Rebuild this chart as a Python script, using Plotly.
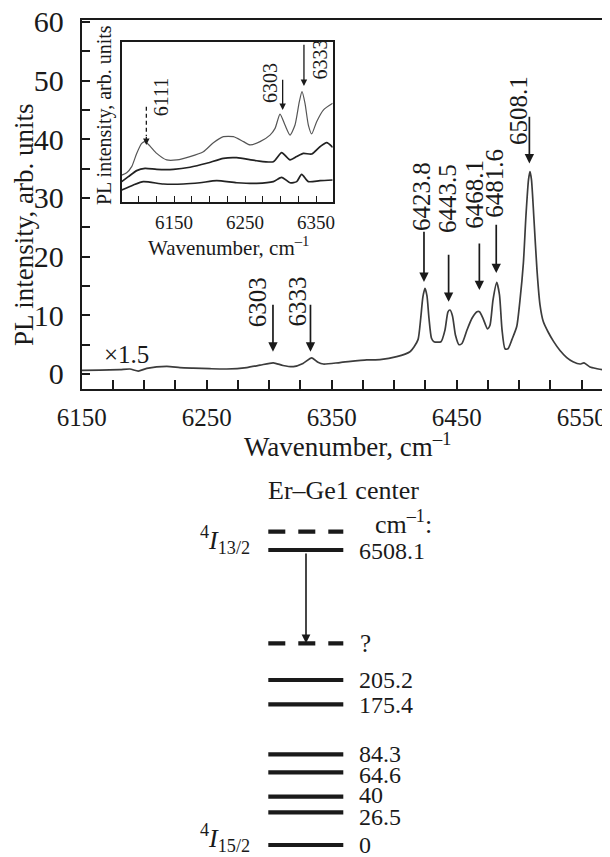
import plotly.graph_objects as go

# The page keeps the browser's default 8 px body margin, so the figure is drawn
# 8 px smaller each way and all positions below are given in window pixels.
PAD = 8
WIN_W, WIN_H = 610, 857
W, H = WIN_W - PAD, WIN_H - PAD
FONT = "Liberation Serif, Times New Roman, serif"
INK = "#1a1a1a"

# ---------------- data ----------------
# main PL spectrum (axis units as drawn)
main_wn = [6150.0, 6164.6, 6180.6, 6188.6, 6195.3, 6202.0, 6218.0, 6228.6, 6239.3, 6252.6,
           6266.0, 6282.0, 6292.6, 6303.3, 6311.0, 6319.3, 6327.0, 6334.0, 6339.0, 6343.3,
           6356.6, 6378.0, 6388.6, 6402.0, 6412.6, 6415.8, 6419.1, 6421.2, 6422.9, 6424.6,
           6426.2, 6427.8, 6429.8, 6431.8, 6437.4, 6440.6, 6443.0, 6444.6, 6446.6, 6449.0,
           6451.8, 6454.2, 6458.2, 6462.2, 6466.2, 6468.2, 6471.0, 6474.6, 6476.6, 6479.0,
           6482.0, 6484.2, 6486.2, 6488.6, 6491.0, 6494.2, 6498.0, 6500.6, 6503.3, 6505.4,
           6507.4, 6508.6, 6509.8, 6511.8, 6514.2, 6516.6, 6519.3, 6523.0, 6527.3, 6532.6,
           6538.0, 6543.0, 6548.6, 6551.8, 6556.6, 6562.2, 6567.0, 6572.6]
main_pl = [0.6, 0.65, 0.75, 0.85, 0.5, 0.95, 1.3, 1.1, 1.0, 0.9,
           0.85, 1.1, 1.5, 1.9, 1.45, 1.25, 1.8, 2.75, 2.0, 1.7,
           1.95, 2.4, 2.45, 2.95, 3.8, 4.6, 5.9, 9.5, 13.1, 14.6,
           13.3, 9.5, 6.1, 5.5, 5.5, 7.5, 10.6, 10.9, 9.9, 6.6,
           5.0, 5.2, 7.5, 9.5, 10.6, 10.6, 9.5, 7.7, 8.3, 12.6,
           15.6, 13.5, 7.6, 4.3, 4.3, 5.9, 8.1, 12.6, 18.9, 27.1,
           33.1, 34.5, 33.1, 26.3, 17.7, 11.8, 8.9, 7.2, 5.6, 4.0,
           2.8, 2.1, 1.7, 1.9, 1.2, 0.9, 0.7, 0.6]

# inset spectra
ins_top_wn = [6076.3, 6083.3, 6090.4, 6097.4, 6104.5, 6109.2, 6116.2, 6125.6, 6139.7, 6153.8,
              6172.5, 6191.3, 6205.4, 6219.5, 6233.6, 6247.7, 6257.0, 6271.1, 6285.2, 6292.3,
              6299.3, 6306.3, 6313.4, 6320.4, 6326.5, 6330.3, 6334.5, 6339.2, 6343.9, 6350.9,
              6360.3, 6373.5]
ins_top_pl = [1.67, 1.82, 2.20, 3.03, 3.66, 3.77, 3.49, 3.03, 2.62, 2.62,
              2.83, 3.14, 3.70, 4.08, 4.08, 3.77, 3.56, 3.77, 4.18, 4.60,
              5.50, 4.81, 4.18, 4.81, 6.28, 6.90, 6.17, 4.81, 4.25, 5.02,
              5.75, 6.17]
ins_mid_wn = [6076.3, 6085.7, 6097.4, 6109.2, 6125.6, 6149.1, 6172.5, 6196.0, 6219.5, 6238.3,
              6266.4, 6289.9, 6301.6, 6313.4, 6322.8, 6332.2, 6343.9, 6355.6, 6365.0, 6373.5]
ins_mid_pl = [1.26, 1.57, 1.95, 2.09, 2.03, 2.03, 2.16, 2.41, 2.72, 2.76,
              2.57, 2.51, 3.08, 2.62, 2.83, 3.03, 2.99, 3.45, 3.70, 3.41]
ins_bot_wn = [6076.3, 6092.7, 6106.8, 6135.0, 6163.1, 6186.6, 6210.1, 6238.3, 6266.4, 6289.9,
              6301.6, 6313.4, 6322.8, 6329.8, 6339.2, 6355.6, 6373.5]
ins_bot_pl = [0.73, 1.05, 1.26, 1.11, 1.11, 1.19, 1.32, 1.19, 1.15, 1.26,
              1.53, 1.19, 1.26, 1.72, 1.26, 1.32, 1.36]

# peak labels
main_peaks = ["6303", "6333", "6423.8", "6443.5", "6468.1", "6481.6", "6508.1"]
inset_peaks = ["6111", "6303", "6333"]

# energy level diagram labels
level_labels = ["6508.1", "205.2", "175.4", "84.3", "64.6", "40", "26.5", "0"]

# tick labels
main_xticks = [6150, 6250, 6350, 6450, 6550]
main_yticks = [0, 10, 20, 30, 40, 50, 60]
inset_xticks = [6150, 6250, 6350]

# ---------------- layout helpers (window px -> paper) ----------------
def fx(px):
    return (px - PAD) / W

def fy(py):
    return 1 - (py - PAD) / H

fig = go.Figure()

fig.add_trace(go.Scatter(x=main_wn, y=main_pl, mode="lines",
                         line=dict(color="#3c3c3c", width=1.7, shape="spline", smoothing=0.6),
                         xaxis="x", yaxis="y", hoverinfo="skip"))
for xs, ys, col, wd in [(ins_top_wn, ins_top_pl, "#555555", 1.2),
                        (ins_mid_wn, ins_mid_pl, "#222222", 1.7),
                        (ins_bot_wn, ins_bot_pl, "#222222", 1.7)]:
    fig.add_trace(go.Scatter(x=xs, y=ys, mode="lines",
                             line=dict(color=col, width=wd, shape="spline", smoothing=0.6),
                             xaxis="x2", yaxis="y2", hoverinfo="skip"))

fig.update_layout(
    template="none",
    width=W, height=H, margin=dict(l=0, r=0, t=0, b=0, pad=0),
    paper_bgcolor="white", plot_bgcolor="rgba(0,0,0,0)", showlegend=False,
    xaxis=dict(showgrid=False, zeroline=False, showline=True, linecolor=INK, linewidth=1.8, mirror=True,
               automargin=False, domain=[fx(81.7), 1], range=[6150, 6572.6],
               ticks="inside", tickcolor=INK, tickvals=main_xticks, ticklen=9, tickwidth=1.5,
               tickfont=dict(family=FONT, size=25, color=INK), ticklabelstandoff=5,
               ticklabeloverflow="allow",
               minor=dict(dtick=25, tick0=6150, ticks="inside", ticklen=9, tickwidth=1.5, tickcolor=INK)),
    yaxis=dict(showgrid=False, zeroline=False, showline=True, linecolor=INK, linewidth=1.8,
               automargin=False, domain=[fy(389.3), fy(20)], range=[-2.61, 60.34],
               ticks="inside", tickcolor=INK, tickvals=main_yticks, ticklen=8, tickwidth=1.5,
               tickfont=dict(family=FONT, size=30, color=INK), ticklabelstandoff=10,
               ticklabeloverflow="allow",
               minor=dict(dtick=5, tick0=0, ticks="inside", ticklen=8, tickwidth=1.5, tickcolor=INK)),
    xaxis2=dict(showgrid=False, zeroline=False, showline=True, linecolor=INK, linewidth=1.8, mirror=True,
                automargin=False, anchor="y2", domain=[fx(121.7), fx(332.7)], range=[6076.3, 6373.5],
                ticks="inside", ticklen=6, tickwidth=1.3, tickcolor=INK, tickvals=inset_xticks,
                tickfont=dict(family=FONT, size=19, color=INK), ticklabelstandoff=3,
                minor=dict(dtick=25, tick0=6150, ticks="inside", ticklen=6, tickwidth=1.3, tickcolor=INK)),
    yaxis2=dict(showgrid=False, zeroline=False, showline=True, linecolor=INK, linewidth=1.8, mirror=True,
                automargin=False, anchor="x2", domain=[fy(201.7), fy(42.3)], range=[0, 10],
                showticklabels=False, ticks=""),
)

ann = []
shapes = []

def text(px, py, s, size=26, angle=0, xanchor="center", yanchor="middle"):
    ann.append(dict(x=fx(px), y=fy(py), xref="paper", yref="paper", text=s, showarrow=False,
                    textangle=angle, xanchor=xanchor, yanchor=yanchor,
                    font=dict(family=FONT, size=size, color=INK)))

# axis titles
text(24, 225, "PL intensity, arb. units", size=27, angle=-90)
text(348, 445, "Wavenumber, cm<sup>–1</sup>", size=27)
text(104, 115, "PL intensity, arb. units", size=20, angle=-90)
text(228, 246, "Wavenumber, cm<sup>–1</sup>", size=21)
text(126.5, 354, "×1.5", size=25)

# main peak arrows: (tip I, tail I, text x offset wn, text centre I)
main_arrow_style = {
    "6303": (3.8, 12.05, -12.5, 12.3),
    "6333": (3.8, 12.05, -10.2, 12.3),
    "6423.8": (15.7, 24.5, -1.4, 30.2),
    "6443.5": (12.3, 20.6, -0.5, 30.0),
    "6468.1": (14.3, 22.5, -3.5, 30.7),
    "6481.6": (17.2, 25.7, -1.0, 32.6),
    "6508.1": (35.9, 44.1, -8.8, 44.9),
}
for lab in main_peaks:
    tip, tail, dx, ty = main_arrow_style[lab]
    xv = float(lab)
    ann.append(dict(x=xv, y=tip, xref="x", yref="y", ax=xv, ay=tail, axref="x", ayref="y",
                    text="", showarrow=True, arrowhead=2, arrowsize=1.1, arrowwidth=1.7,
                    arrowcolor=INK, standoff=0))
    ann.append(dict(x=xv + dx, y=ty, xref="x", yref="y", text=lab, showarrow=False, textangle=-90,
                    xanchor="center", yanchor="middle", font=dict(family=FONT, size=25, color=INK)))

# inset peak arrows
inset_arrow_style = {
    "6111": (3.56, 5.96, 20.0, 6.59, True),
    "6303": (5.75, 7.74, -17.8, 7.45, False),
    "6333": (7.26, 9.94, 23.3, 8.95, False),
}
for lab in inset_peaks:
    tip, tail, dx, ty, dashed = inset_arrow_style[lab]
    xv = float(lab)
    if dashed:
        shapes.append(dict(type="line", xref="x2", yref="y2", x0=xv, x1=xv, y0=tail, y1=tip + 0.55,
                           line=dict(color=INK, width=1.3, dash="4px,3px")))
        ann.append(dict(x=xv, y=tip, xref="x2", yref="y2", ax=xv, ay=tip + 0.6, axref="x2", ayref="y2",
                        text="", showarrow=True, arrowhead=2, arrowsize=1.0, arrowwidth=1.3,
                        arrowcolor=INK, standoff=0))
    else:
        ann.append(dict(x=xv, y=tip, xref="x2", yref="y2", ax=xv, ay=tail, axref="x2", ayref="y2",
                        text="", showarrow=True, arrowhead=2, arrowsize=1.0, arrowwidth=1.3,
                        arrowcolor=INK, standoff=0))
    ann.append(dict(x=xv + dx, y=ty, xref="x2", yref="y2", text=lab, showarrow=False, textangle=-90,
                    xanchor="center", yanchor="middle", font=dict(family=FONT, size=20, color=INK)))

# ---------------- energy level diagram ----------------
lvl_x0, lvl_x1 = 268.3, 343.3
level_line_y = [550, 680, 704.3, 754.3, 772.3, 796.7, 812.3, 845]
level_text_y = [551, 680, 705, 754, 775, 795, 817, 845]
dashed_y = [531.7, 643.3]

for ly in level_line_y:
    shapes.append(dict(type="line", xref="paper", yref="paper", x0=fx(lvl_x0), x1=fx(lvl_x1),
                       y0=fy(ly), y1=fy(ly), line=dict(color=INK, width=4.2)))
for ly in dashed_y:
    shapes.append(dict(type="line", xref="paper", yref="paper", x0=fx(lvl_x0), x1=fx(lvl_x1),
                       y0=fy(ly), y1=fy(ly), line=dict(color=INK, width=4.2, dash="17px,13px")))
for lab, ty in zip(level_labels, level_text_y):
    text(356.7, ty, lab, size=24, xanchor="left")

text(358, 643, "?", size=25, xanchor="left")
text(373, 522, "cm<sup>–1</sup>:", size=26, xanchor="left")
text(343, 490, "Er–Ge1 center", size=26)
text(252, 540, "<sup>4</sup><i>I</i><sub>13/2</sub>", size=26, xanchor="right")
text(252, 838, "<sup>4</sup><i>I</i><sub>15/2</sub>", size=26, xanchor="right")

# transition arrow
ann.append(dict(x=fx(306), y=fy(643.3), xref="paper", yref="paper", ax=0, ay=-(643.3 - 552),
                axref="pixel", ayref="pixel", text="", showarrow=True, arrowhead=2, arrowsize=1.1,
                arrowwidth=1.6, arrowcolor=INK, standoff=0))

fig.update_layout(annotations=ann, shapes=shapes)
fig.write_html("out.html")
